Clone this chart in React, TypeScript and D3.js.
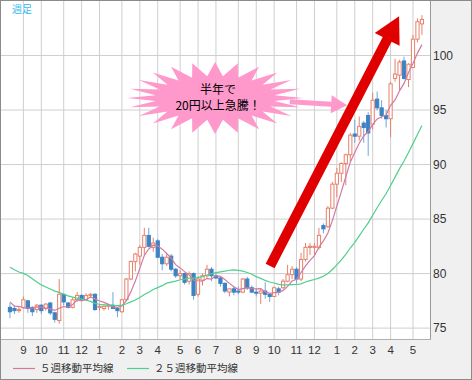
import React from 'react';
import * as d3 from 'd3';

// ---- DATA (USD/JPY weekly) ----
const firstWeek = new Date(2011, 7, 15);
const lastWeekEnd = new Date(2013, 4, 21);

const opens = [
  76.9, 76.8, 76.6, 76.9, 77.5, 76.9, 76.7, 77.1, 76.8, 77.3, 76.4, 75.7, 78.1, 77.3, 76.9, 77.6,
  78.0, 77.6, 78.0, 78.1, 76.9, 76.8, 77.0, 77.1, 76.8, 76.5, 77.6, 79.5, 81.1, 81.6, 82.4, 83.5,
  82.4, 83.0, 81.5, 80.9, 81.6, 80.4, 79.8, 80.0, 79.3, 80.0, 78.1, 79.4, 79.8, 80.4, 79.8, 79.6,
  79.1, 78.3, 78.6, 78.4, 78.3, 79.5, 78.7, 78.3, 78.2, 78.4, 78.1, 77.9, 78.6, 78.7, 79.3, 79.9,
  80.4, 79.5, 81.3, 82.4, 82.4, 82.4, 84.4, 84.3, 86.0, 88.2, 89.2, 90.1, 90.9, 92.8, 92.6, 93.8,
  94.5, 93.7, 96.0, 95.2, 94.5, 94.2, 97.9, 98.2, 99.5, 97.8, 98.9, 101.5, 102.9,
];
const highs = [
  77.3, 77.1, 77.0, 77.9, 77.6, 77.0, 77.2, 77.2, 77.3, 77.4, 76.5, 79.5, 78.2, 77.4, 77.8, 78.3,
  78.1, 78.2, 78.2, 78.2, 77.2, 77.1, 77.2, 78.3, 76.9, 77.7, 79.6, 81.2, 81.9, 82.6, 84.2, 84.2,
  83.3, 83.2, 81.8, 81.8, 81.8, 80.5, 80.3, 80.1, 80.2, 80.1, 79.7, 80.0, 80.8, 80.6, 80.1, 79.7,
  79.2, 78.6, 78.8, 78.8, 79.6, 79.7, 78.9, 78.6, 78.6, 79.2, 78.2, 78.8, 78.8, 79.5, 80.8, 80.7,
  80.6, 81.9, 82.8, 82.8, 82.8, 84.2, 84.6, 86.2, 88.4, 89.7, 90.2, 91.0, 92.9, 94.1, 94.4, 94.0,
  94.8, 96.6, 96.7, 95.9, 95.0, 97.6, 99.7, 99.6, 99.9, 99.3, 101.9, 103.4, 103.7,
];
const lows = [
  75.9, 76.3, 76.4, 76.8, 76.4, 76.1, 76.4, 76.3, 76.6, 76.2, 75.5, 75.4, 77.1, 76.8, 76.8, 77.4,
  77.5, 77.5, 77.8, 76.6, 76.6, 76.6, 76.7, 76.8, 76.0, 76.4, 77.5, 79.4, 80.2, 80.8, 81.7, 82.4,
  82.0, 81.4, 80.3, 80.7, 80.2, 79.6, 79.5, 79.0, 79.0, 77.6, 77.9, 78.9, 79.5, 79.3, 79.5, 78.8,
  78.2, 77.9, 78.0, 78.1, 78.2, 78.5, 78.2, 77.9, 77.2, 77.7, 77.4, 77.9, 78.0, 78.6, 79.2, 79.5,
  79.1, 79.3, 81.1, 81.7, 81.7, 82.2, 83.7, 84.2, 85.9, 87.0, 88.4, 88.1, 90.3, 92.0, 92.2, 92.0,
  90.8, 93.2, 95.0, 94.2, 93.4, 92.5, 97.6, 96.8, 97.8, 97.1, 98.9, 101.2, 101.9,
];
const closes = [
  76.5, 76.6, 76.7, 77.6, 76.8, 76.5, 77.1, 76.6, 77.2, 76.4, 75.8, 78.1, 77.4, 76.9, 77.6, 78.0,
  77.6, 78.0, 78.1, 76.7, 77.0, 77.0, 77.1, 76.8, 76.6, 77.6, 79.5, 81.1, 81.8, 82.4, 83.5, 82.5,
  82.8, 81.5, 80.9, 81.5, 80.4, 79.8, 80.0, 79.2, 80.0, 78.0, 79.5, 79.8, 80.4, 79.8, 79.6, 79.1,
  78.4, 78.6, 78.3, 78.3, 79.5, 78.7, 78.3, 78.2, 78.4, 78.1, 77.9, 78.7, 78.3, 79.3, 79.9, 80.4,
  79.5, 81.3, 82.4, 82.5, 82.5, 83.5, 84.1, 86.0, 88.2, 89.2, 90.1, 90.9, 92.7, 92.6, 93.5, 93.4,
  92.9, 95.9, 95.2, 94.5, 94.2, 97.4, 98.3, 99.4, 97.9, 99.2, 101.5, 103.1, 103.3,
];
// weekly closes before the first candle (needed by the moving averages)
const priorCloses = [
  82.4, 81.9, 80.6, 81.5, 84.0, 84.9, 83.1, 81.8, 81.2, 80.6, 80.9, 81.7,
  80.8, 80.4, 80.3, 80.0, 80.4, 80.7, 81.2, 79.1, 78.5, 76.8, 78.3, 76.9,
];
const yTicks = [75, 80, 85, 90, 95, 100];
const legendLabels = ['５週移動平均線', '２５週移動平均線'];
const maPeriods = [5, 25];
const titleText = '週足';
const calloutLines = ['半年で', '20円以上急騰！'];

// ---- LAYOUT ----
const W = 472, H = 380;
const plot = { left: 1, right: 430, top: 1, bottom: 339 };
const upStroke = '#e8806a';
const downFill = '#3c82c4';
const downWick = '#6fa6da';
const maColors = ['#d27aa2', '#4fcf8c'];
const numFont = '"Liberation Sans", Arial, sans-serif';
const jpFont = '"Noto Sans CJK JP", sans-serif';

export default function App() {
  const weeks = d3.timeMonday.range(firstWeek, lastWeekEnd);
  const n = closes.length;
  const idx = d3.range(n);

  const x = d3.scaleLinear().domain([-2, 93.8]).range([plot.left, plot.right]);
  const y = d3.scaleLinear().domain([74, 105]).range([plot.bottom, plot.top]);

  const monthTicks = idx.filter((i) => i > 0 && weeks[i].getMonth() !== weeks[i - 1].getMonth());

  const all = priorCloses.concat(closes);
  const p0 = priorCloses.length;
  const maSeries = maPeriods.map((p) =>
    idx.map((i) => d3.mean(all.slice(p0 + i - p + 1, p0 + i + 1)) as number)
  );
  const line = d3.line<number>().x((_, i) => x(i)).y((v) => y(v));

  // annotation anchors in data space
  const burstC = { i: 45.8, p: 96.1 };
  const bx = x(burstC.i), by = y(burstC.p);
  const spikes = 24;
  const burstPts = d3.range(spikes * 2).map((k) => {
    const a = (k * Math.PI) / spikes;
    const outer = k % 2 === 0;
    const rx = outer ? 88 : 60;
    const ry = outer ? 36 : 22;
    return [bx + rx * Math.cos(a), by + ry * Math.sin(a)];
  });

  const arrowPoly = (x0: number, y0: number, x1: number, y1: number, sw: number, hw: number, hl: number) => {
    const dx = x1 - x0, dy = y1 - y0;
    const L = Math.hypot(dx, dy);
    const ux = dx / L, uy = dy / L;
    const px = -uy, py = ux;
    const bxp = x1 - ux * hl, byp = y1 - uy * hl;
    const pts = [
      [x0 + px * sw / 2, y0 + py * sw / 2],
      [bxp + px * sw / 2, byp + py * sw / 2],
      [bxp + px * hw / 2, byp + py * hw / 2],
      [x1, y1],
      [bxp - px * hw / 2, byp - py * hw / 2],
      [bxp - px * sw / 2, byp - py * sw / 2],
      [x0 - px * sw / 2, y0 - py * sw / 2],
    ];
    return pts.map((q) => q.join(',')).join(' ');
  };

  const redArrow = arrowPoly(x(58.1), y(80.7), x(86.9), y(103.6), 10, 28, 26);
  const pinkArrow = arrowPoly(x(62.5), y(95.75), x(75.3), y(95.45), 5, 18, 16);

  return (
    <svg width={W} height={H} style={{ position: 'absolute', left: 0, top: 0 }}>
      <rect x={0} y={0} width={W} height={H} fill="#f0f0f0" />
      <rect x={plot.left} y={plot.top} width={plot.right - plot.left} height={plot.bottom - plot.top} fill="#fff" />
      {/* grid */}
      {yTicks.map((t) => (
        <line key={'h' + t} x1={plot.left} x2={plot.right} y1={y(t)} y2={y(t)} stroke="#cfcfcf" strokeWidth={1} />
      ))}
      {monthTicks.map((i) => (
        <line key={'v' + i} x1={x(i)} x2={x(i)} y1={plot.top} y2={plot.bottom} stroke="#cfcfcf" strokeWidth={1} />
      ))}
      {/* candles */}
      {idx.map((i) => {
        const up = closes[i] >= opens[i];
        const top = y(Math.max(opens[i], closes[i]));
        const bot = y(Math.min(opens[i], closes[i]));
        const cx = x(i);
        return (
          <g key={'c' + i}>
            <line x1={cx} x2={cx} y1={y(highs[i])} y2={y(lows[i])} stroke={up ? upStroke : downWick} strokeWidth={1} />
            <rect
              x={cx - 1.6}
              y={top}
              width={3.2}
              height={Math.max(bot - top, 0.8)}
              fill={up ? '#fff' : downFill}
              stroke={up ? upStroke : downFill}
              strokeWidth={1}
            />
          </g>
        );
      })}
      {/* moving averages */}
      {maSeries.map((s, k) => (
        <path key={'ma' + k} d={line(s) || ''} fill="none" stroke={maColors[k]} strokeWidth={1.2} />
      ))}
      {/* annotations */}
      <polygon points={redArrow} fill="#e00000" />
      <polygon points={pinkArrow} fill="#ff99cc" />
      <polygon points={burstPts.map((q) => q.join(',')).join(' ')} fill="#ff99cc" />
      {calloutLines.map((t, k) => (
        <text key={'cl' + k} x={bx + 3} y={by - 4 + k * 16} textAnchor="middle" fontFamily={jpFont} fontSize={12} fill="#000">
          {t}
        </text>
      ))}
      <text x={12} y={13} fontFamily={jpFont} fontSize={10} fill="#33bbee">{titleText}</text>
      {/* axes */}
      <line x1={plot.right + 0.5} x2={plot.right + 0.5} y1={0} y2={plot.bottom + 1} stroke="#9a9a9a" />
      <line x1={0} x2={plot.right + 1} y1={plot.bottom + 0.5} y2={plot.bottom + 0.5} stroke="#b0b0b0" />
      {yTicks.map((t) => (
        <text key={'yl' + t} x={433} y={y(t)} dy="0.35em" fontFamily={numFont} fontSize={12} fill="#333">
          {t}
        </text>
      ))}
      {monthTicks.map((i) => (
        <text key={'ml' + i} x={x(i)} y={350} dy="0.35em" textAnchor="middle" fontFamily={numFont} fontSize={11.5} fill="#333">
          {weeks[i].getMonth() + 1}
        </text>
      ))}
      {/* legend */}
      {legendLabels.map((t, k) => {
        const lx = k === 0 ? 13 : 127;
        return (
          <g key={'lg' + k}>
            <line x1={lx} x2={lx + 22} y1={368.5} y2={368.5} stroke={maColors[k]} strokeWidth={1.2} />
            <text x={lx + 27} y={368} dy="0.35em" fontFamily={jpFont} fontSize={10.5} fill="#333">
              {t}
            </text>
          </g>
        );
      })}
      {/* frame */}
      <rect x={0.5} y={0.5} width={W - 1} height={H - 1} fill="none" stroke="#8a8a8a" />
    </svg>
  );
}
